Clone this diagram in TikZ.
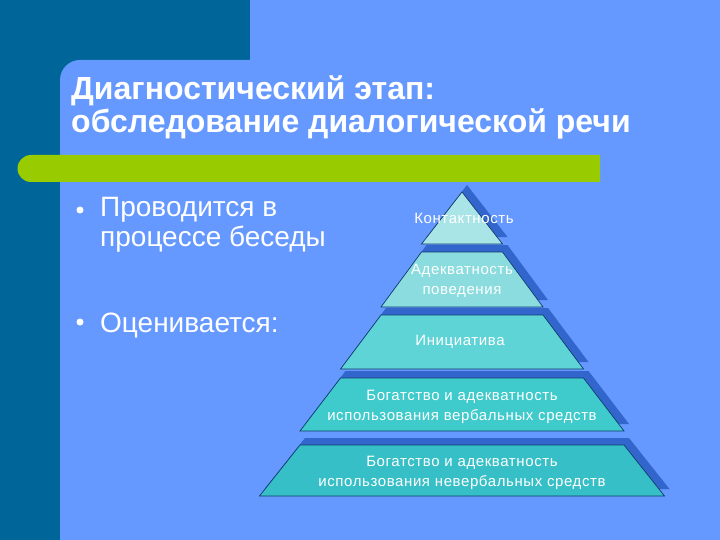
\documentclass[tikz,border=0pt]{standalone}
\usepackage{fontspec}
\setmainfont{Liberation Sans}
\newfontfamily\tierfont[LetterSpace=4]{Liberation Sans}
\usetikzlibrary{positioning}
\definecolor{slidedark}{HTML}{006699}
\definecolor{slidelight}{HTML}{6699FF}
\definecolor{barlime}{HTML}{99CC00}
\definecolor{tiershade}{HTML}{3366CC}
\definecolor{tieredge}{HTML}{0F3A6E}
\definecolor{tierA}{HTML}{A9E4E6}
\definecolor{tierB}{HTML}{8ADCDE}
\definecolor{tierC}{HTML}{5ED4D6}
\definecolor{tierD}{HTML}{3FCACC}
\definecolor{tierE}{HTML}{36BFC6}
\tikzset{
  titletext/.style={text=white, font=\fontsize{32}{33}\selectfont\bfseries, align=left, inner sep=0pt},
  pointtext/.style={text=white, font=\fontsize{28}{30}\selectfont, align=left, inner sep=0pt},
  tiertext/.style={text=white, font=\tierfont\fontsize{15}{19.5}\selectfont, align=center},
  dot/.style={circle, fill=white, inner sep=0pt, minimum size=7pt}
}

\begin{document}
\begin{tikzpicture}[x=1pt,y=-1pt]
\useasboundingbox (0,0) rectangle (720,540);
\fill[slidedark] (0,0) rectangle (720,540);
\fill[slidelight] (60,540) -- (60,80) arc[start angle=180,end angle=270,radius=20]
  -- (250,60) -- (250,0) -- (720,0) -- (720,540) -- cycle;
\fill[barlime] (600,155) -- (31,155) arc[start angle=270,end angle=90,radius=13.5]
  -- (600,182) -- cycle;

\node[titletext, anchor=base west] (title) at (71,133)
  {Диагностический этап:\\обследование диалогической речи};

\node[dot] (dot1) at (80,210) {};
\node[pointtext, anchor=base west] (point1) at (100,247) {Проводится в\\процессе беседы};
\node[dot] (dot2) at (80,322) {};
\node[pointtext, anchor=base west] (point2) at (100,332) {Оценивается:};

% pyramid: top, bottom, half widths, colour
\foreach \t/\b/\wt/\wb/\c in {192/244/0/40.5/tierA, 252/307/40.5/81/tierB,
    315/369/81/121.5/tierC, 378/431/121.5/162/tierD, 445/496/162/202.5/tierE}{
  \fill[tiershade, xshift=5pt, yshift=7pt]
    (462-\wt,\t) -- (462+\wt,\t) -- (462+\wb,\b) -- (462-\wb,\b) -- cycle;
  \filldraw[fill=\c, draw=tieredge, line width=0.7pt]
    (462-\wt,\t) -- (462+\wt,\t) -- (462+\wb,\b) -- (462-\wb,\b) -- cycle;
}

\node[tiertext] (contact) at (464,218) {Контактность};
\node[tiertext] (adequacy) at (462,281) {Адекватность\\поведения};
\node[tiertext] (initiative) at (460,342) {Инициатива};
\node[tiertext] (verbal) at (462,407) {Богатство и адекватность\\использования вербальных средств};
\node[tiertext] (nonverbal) at (462,473) {Богатство и адекватность\\использования невербальных средств};
\end{tikzpicture}
\end{document}
